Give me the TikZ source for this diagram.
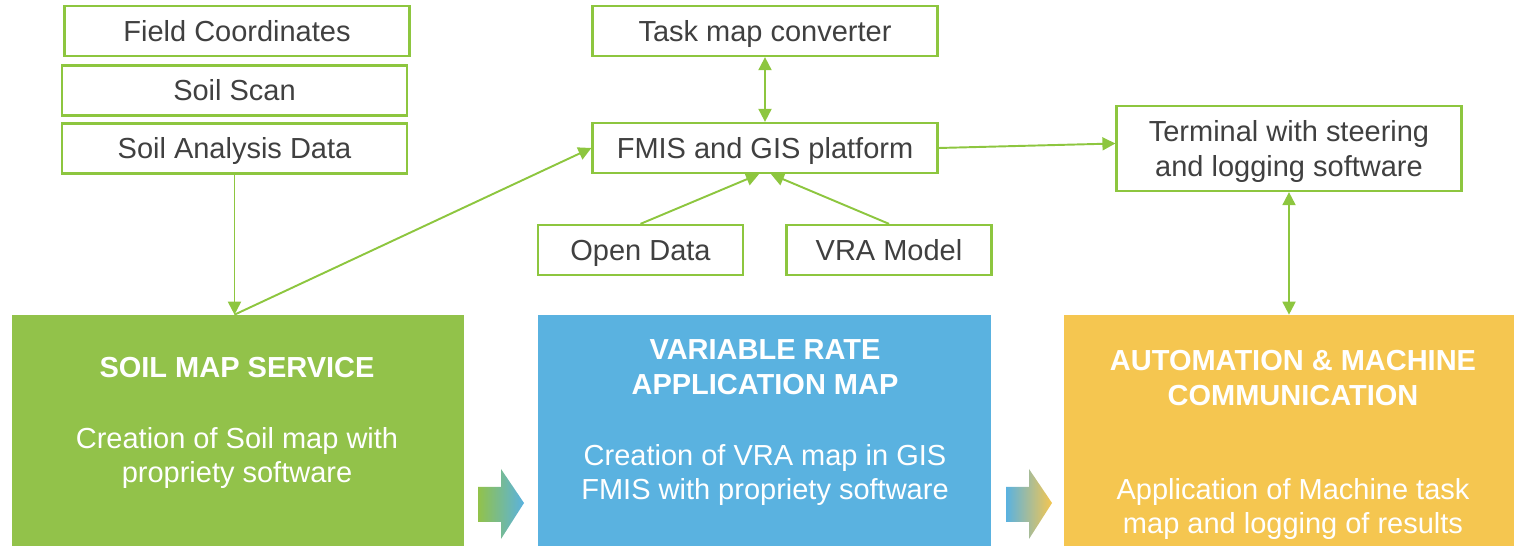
\documentclass[tikz,border=0pt]{standalone}
\usepackage{fontspec}
\setmainfont{Liberation Sans}
\usepackage{xcolor}
\definecolor{leaf}{HTML}{8DC63F}
\definecolor{soilgreen}{HTML}{92C24A}
\definecolor{vrablue}{HTML}{5AB2E0}
\definecolor{machyellow}{HTML}{F5C650}
\definecolor{txt}{HTML}{404040}
\usepackage{tikz}
\usetikzlibrary{positioning,arrows.meta,calc}

\begin{document}
\begin{tikzpicture}[x=0.02cm, y=-0.02cm,
                   every node/.style={font=\fontsize{16.5}{19.6}\selectfont, text=txt},
                   item/.style={draw=leaf, line width=1.3pt, fill=white, minimum width=6.9cm,
                                minimum height=1cm, inner sep=0pt, text depth=0pt, align=center},
                   smallitem/.style={item, minimum width=4.1cm},
                   stage/.style={minimum width=9.05cm, minimum height=4.62cm, inner sep=0pt},
                   head/.style={text=white, font=\fontsize{16.5}{19.6}\selectfont\bfseries, align=center},
                   body/.style={text=white, align=center},
                   link/.style={draw=leaf, line width=1.1pt, -{Triangle[length=2.6mm, width=2.6mm]}},
                   twoway/.style={link, {Triangle[length=2.6mm, width=2.6mm]}-{Triangle[length=2.6mm, width=2.6mm]}}]
    \useasboundingbox (0,0) rectangle (1514,546);

    % input data on the left
    \node[item] (fc)  at (237,31)    {Field Coordinates};
    \node[item] (ss)  at (234.5,90.5)  {Soil Scan};
    \node[item] (sad) at (234.5,148.5) {Soil Analysis Data};

    % platform in the middle
    \node[item] (task) at (765,31)  {Task map converter};
    \node[item] (fmis) at (765,148) {FMIS and GIS platform};
    \node[smallitem] (open) at (640.5,250) {Open Data};
    \node[smallitem] (vra)  at (889,250)   {VRA Model};

    % machine side
    \node[item, minimum height=1.7cm] (term) at (1289,148.5) {Terminal with steering\\and logging software};

    % the three stages
    \node[stage, fill=soilgreen]  (soil) at (238,430.5)  {};
    \node[stage, fill=vrablue]    (vmap) at (764.5,430.5) {};
    \node[stage, fill=machyellow] (auto) at (1290,430.5) {};

    \node[head] at (237,368) {SOIL MAP SERVICE};
    \node[body] at (237,458) {Creation of Soil map with\\propriety software};
    \node[head] at (765,367) {VARIABLE RATE\\APPLICATION MAP};
    \node[body] at (765,475) {Creation of VRA map in GIS\\FMIS with propriety software};
    \node[head] at (1293,378) {AUTOMATION \& MACHINE\\COMMUNICATION};
    \node[body] at (1293,509) {Application of Machine task\\map and logging of results};

    % flow between the stages
    \shade[left color=soilgreen, right color=vrablue]
        (478,487) -- (501,487) -- (501,469) -- (524,503) -- (501,539) -- (501,522) -- (478,522) -- cycle;
    \shade[left color=vrablue, right color=machyellow]
        (1006,487) -- (1029,487) -- (1029,469) -- (1052,503) -- (1029,539) -- (1029,522) -- (1006,522) -- cycle;

    % connectors
    \draw[link] (sad.south) -- (sad.south |- soil.north);
    \draw[link] (sad.south |- soil.north) -- (fmis.west);
    \draw[twoway] (task.south) -- (fmis.north);
    \draw[link] (open.north) -- ([xshift=-0.12cm]fmis.south);
    \draw[link] (vra.north) -- ([xshift=0.12cm]fmis.south);
    \draw[link] (fmis.east) -- ([yshift=0.1cm]term.west);
    \draw[twoway] (term.south) -- (term.south |- auto.north);
\end{tikzpicture}
\end{document}
